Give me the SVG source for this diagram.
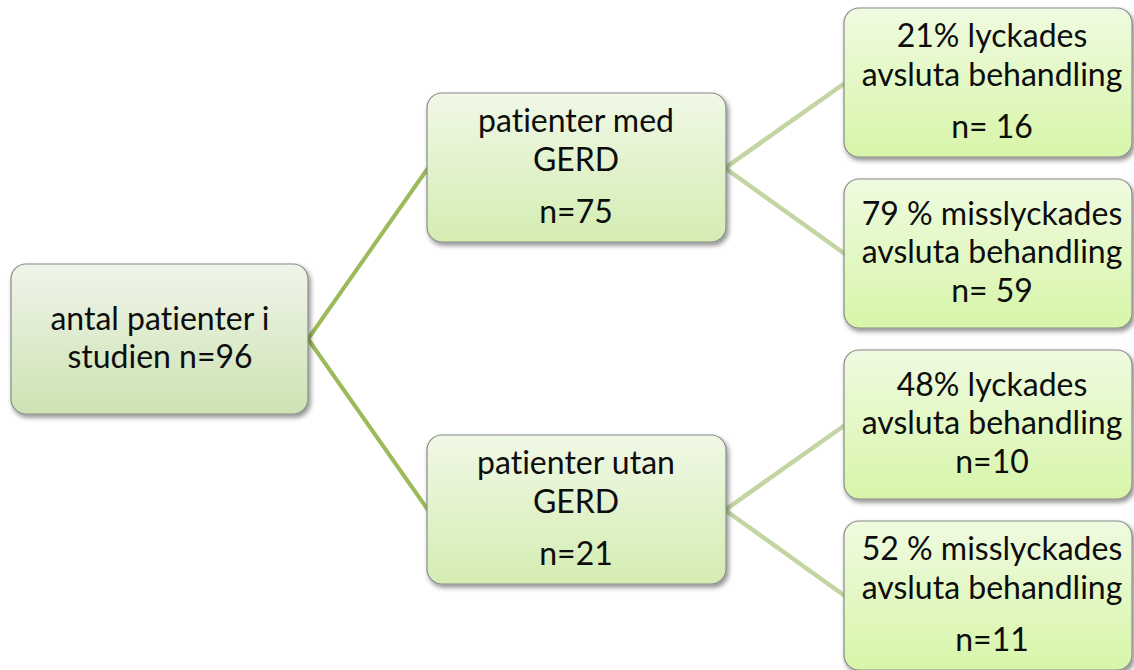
<svg xmlns="http://www.w3.org/2000/svg" width="1134" height="670" viewBox="0 0 1134 670">
  <defs>
    <linearGradient id="fillRoot" x1="0" y1="0" x2="0" y2="1">
      <stop offset="0" stop-color="#eff4ea"/>
      <stop offset="1" stop-color="#cde3b2"/>
    </linearGradient>
    <linearGradient id="fillMid" x1="0" y1="0" x2="0" y2="1">
      <stop offset="0" stop-color="#f0f8e6"/>
      <stop offset="1" stop-color="#d4edb2"/>
    </linearGradient>
    <linearGradient id="fillLeaf" x1="0" y1="0" x2="0" y2="1">
      <stop offset="0" stop-color="#effbe0"/>
      <stop offset="1" stop-color="#d7f5a9"/>
    </linearGradient>
    <filter id="shadow" x="-10%" y="-10%" width="125%" height="130%">
      <feGaussianBlur in="SourceAlpha" stdDeviation="2.5"/>
      <feOffset dx="1.5" dy="3" result="off"/>
      <feComponentTransfer><feFuncA type="linear" slope="0.45"/></feComponentTransfer>
      <feMerge><feMergeNode/><feMergeNode in="SourceGraphic"/></feMerge>
    </filter>
  </defs>
  <style>
    .box { stroke: #8a8a8a; stroke-width: 1.2; filter: url(#shadow); }
    .root { fill: url(#fillRoot); }
    .mid { fill: url(#fillMid); }
    .leaf { fill: url(#fillLeaf); }
    .lbl { font-family: Lato, "Liberation Sans", sans-serif; font-size: 32px; fill: #0d0d0d; text-anchor: middle; font-variant-ligatures: none; font-feature-settings: "liga" 0; }
    .c1 { stroke: #9bbb59; stroke-width: 4; fill: none; }
    .c2 { stroke: #c3d5a3; stroke-width: 4.5; fill: none; }
  </style>

  <rect width="1134" height="670" fill="#ffffff"/>

  <!-- connectors -->
  <g id="connectors">
    <line class="c1" x1="308" y1="339" x2="428" y2="168"/>
    <line class="c1" x1="308" y1="339" x2="428" y2="510"/>
    <line class="c2" x1="725" y1="168" x2="845" y2="83"/>
    <line class="c2" x1="725" y1="168" x2="845" y2="254"/>
    <line class="c2" x1="725" y1="510" x2="845" y2="425"/>
    <line class="c2" x1="725" y1="510" x2="845" y2="596"/>
  </g>

  <g id="node-root">
    <rect class="box root" x="11" y="264" width="297" height="150" rx="15"/>
    <text class="lbl" x="160" y="330">antal patienter i</text>
    <text class="lbl" x="160" y="368">studien n=96</text>
  </g>

  <g id="node-gerd">
    <rect class="box mid" x="427" y="93" width="299" height="149" rx="15"/>
    <text class="lbl" x="576" y="132">patienter med</text>
    <text class="lbl" x="576" y="171">GERD</text>
    <text class="lbl" x="576" y="223">n=75</text>
  </g>

  <g id="node-no-gerd">
    <rect class="box mid" x="427" y="435" width="299" height="149" rx="15"/>
    <text class="lbl" x="576" y="474">patienter utan</text>
    <text class="lbl" x="576" y="513">GERD</text>
    <text class="lbl" x="576" y="565">n=21</text>
  </g>

  <g id="node-gerd-success">
    <rect class="box leaf" x="844" y="8" width="288" height="149" rx="15"/>
    <text class="lbl" x="992" y="47">21% lyckades</text>
    <text class="lbl" x="992" y="86">avsluta behandling</text>
    <text class="lbl" x="992" y="138">n= 16</text>
  </g>

  <g id="node-gerd-fail">
    <rect class="box leaf" x="844" y="179" width="288" height="149" rx="15"/>
    <text class="lbl" x="992" y="225">79 % misslyckades</text>
    <text class="lbl" x="992" y="263">avsluta behandling</text>
    <text class="lbl" x="992" y="302">n= 59</text>
  </g>

  <g id="node-nogerd-success">
    <rect class="box leaf" x="844" y="350" width="288" height="149" rx="15"/>
    <text class="lbl" x="992" y="396">48% lyckades</text>
    <text class="lbl" x="992" y="434">avsluta behandling</text>
    <text class="lbl" x="992" y="473">n=10</text>
  </g>

  <g id="node-nogerd-fail">
    <rect class="box leaf" x="844" y="521" width="288" height="149" rx="15"/>
    <text class="lbl" x="992" y="560">52 % misslyckades</text>
    <text class="lbl" x="992" y="599">avsluta behandling</text>
    <text class="lbl" x="992" y="651">n=11</text>
  </g>
</svg>
